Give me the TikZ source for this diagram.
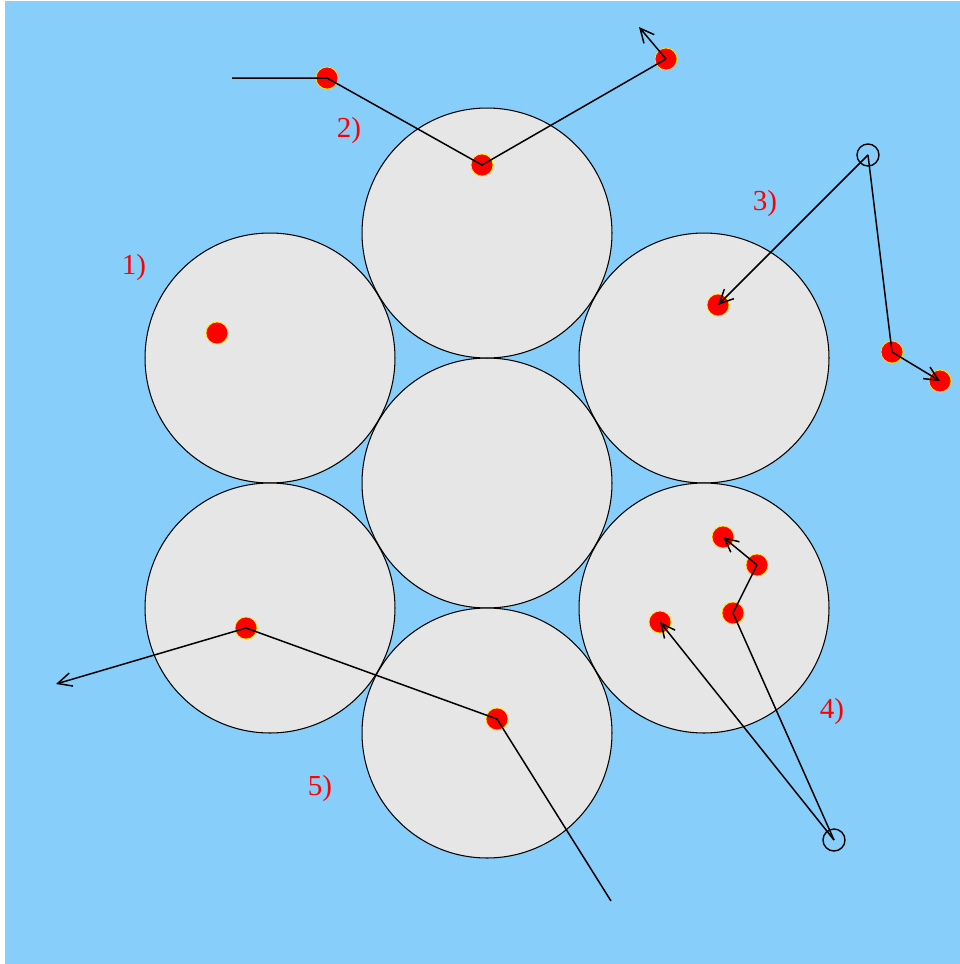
\documentclass[tikz,border=0pt]{standalone}
\usepackage{fontspec}
\setmainfont{Liberation Serif}
\usepackage{xcolor}
\usepackage{tikz}
\usetikzlibrary{arrows.meta}
\definecolor{sky}{HTML}{87CEFA}
\definecolor{cellgray}{HTML}{E6E6E6}

\begin{document}
\begin{tikzpicture}[x=0.02cm,y=-0.02cm,
  font=\fontsize{16.5pt}{18pt}\selectfont,
  cell/.style={circle, draw, fill=cellgray, line width=0.6pt, minimum size=5cm, inner sep=0pt},
  dot/.style={circle, draw=yellow, fill=red, line width=0.4pt, minimum size=0.44cm, inner sep=0pt},
  ring/.style={circle, draw, line width=0.8pt, minimum size=0.44cm, inner sep=0pt},
  lbl/.style={text=red, inner sep=0pt},
  path/.style={line width=0.85pt},
  arr/.style={path, -{Straight Barb[length=2.8mm, width=2.7mm, line width=0.85pt]}}]
% ----- background
\fill[white] (0,0) rectangle (960,964);
\fill[sky] (5,1) rectangle (960,964);
\useasboundingbox (0,0) rectangle (960,964);
% ----- hexagonal cluster
\node[cell] (mid) at (487,483) {};
\node[cell] (top) at (487,233) {};
\node[cell] (ul) at (270,358) {};
\node[cell] (ur) at (704,358) {};
\node[cell] (ll) at (270,608) {};
\node[cell] (lr) at (704,608) {};
\node[cell] (bot) at (487,733) {};
% ----- labels
\node[lbl] (l1) at (134,268) {1)};
\node[lbl] (l2) at (349,131) {2)};
\node[lbl] (l3) at (765,204) {3)};
\node[lbl] (l4) at (832,712) {4)};
\node[lbl] (l5) at (320,789) {5)};
% ----- 1) particle at rest
\node[dot] (a1) at (217,333) {};
% ----- 2) passing over the top
\coordinate (b0) at (232,78);
\node[dot] (b1) at (327,78) {};
\node[dot] (b2) at (482,165) {};
\node[dot] (b3) at (666,59) {};
\coordinate (b4) at (639,27);
\draw[path] (b0) -- (b1.center) -- (b2.center) -- (b3.center);
\draw[arr] (b3.center) -- (b4);
% ----- 3) source outside, right
\node[ring] (s3) at (868,155) {};
\node[dot] (c1) at (718,305) {};
\node[dot] (c2) at (892,352) {};
\node[dot] (c3) at (940,381) {};
\draw[arr] (s3.center) -- (c1.center);
\draw[path] (s3.center) -- (c2.center);
\draw[arr] (c2.center) -- (c3.center);
% ----- 4) source outside, lower right
\node[ring] (s4) at (834,840) {};
\node[dot] (d1) at (660,622) {};
\node[dot] (d2) at (733,613) {};
\node[dot] (d3) at (757,565) {};
\node[dot] (d4) at (723,537) {};
\draw[arr] (s4.center) -- (d1.center);
\draw[path] (s4.center) -- (d2.center) -- (d3.center);
\draw[arr] (d3.center) -- (d4.center);
% ----- 5) crossing the lower cells
\coordinate (e0) at (611,901);
\node[dot] (e1) at (497,719) {};
\node[dot] (e2) at (246,628) {};
\coordinate (e3) at (56,684);
\draw[path] (e0) -- (e1.center) -- (e2.center);
\draw[arr] (e2.center) -- (e3);
\end{tikzpicture}
\end{document}
